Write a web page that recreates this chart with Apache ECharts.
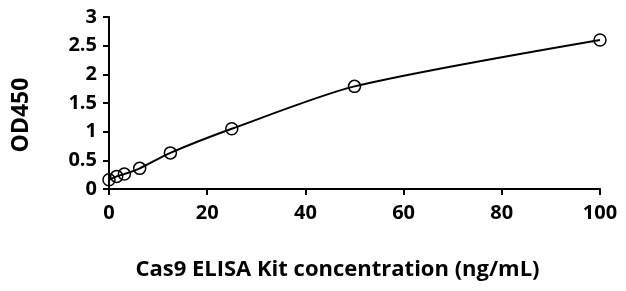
<!DOCTYPE html>
<html>
<head>
<meta charset="utf-8">
<script src="https://cdn.jsdelivr.net/npm/echarts@6/dist/echarts.min.js"></script>
<style>
  html, body { margin: 0; padding: 0; background: #fff; }
  #chart { width: 626px; height: 291px; }
</style>
</head>
<body>
<div id="chart"></div>
<script>
// standard curve, concentration (ng/mL) vs OD450
const concentration = [0, 1.5625, 3.125, 6.25, 12.5, 25, 50, 100];
const od450 = [0.16, 0.22, 0.26, 0.36, 0.63, 1.05, 1.79, 2.6];

const xAxisName = "Cas9 ELISA Kit concentration (ng/mL)";
const yAxisName = "OD450";

let myChart = echarts.init(document.getElementById("chart"));
let font = "'Open Sans', 'Liberation Sans', sans-serif";
let axisLine = { show: true, onZero: false, lineStyle: { color: "#000", width: 2 } };
let axisTick = { show: true, length: 6, lineStyle: { color: "#000", width: 2 } };

let options = {
    animation: false,
    grid: { left: 109, right: 26, top: 17, bottom: 102 },
    xAxis: {
        type: "value",
        min: 0,
        max: 100,
        interval: 20,
        name: xAxisName,
        nameLocation: "middle",
        nameGap: 70,
        nameTextStyle: { color: "#000", fontFamily: font, fontWeight: "bold", fontSize: 22, padding: [0, 34, 0, 0] },
        axisLine: axisLine,
        axisTick: axisTick,
        splitLine: { show: false },
        axisLabel: { color: "#000", fontFamily: font, fontWeight: "bold", fontSize: 20, margin: 14 },
    },
    yAxis: {
        type: "value",
        min: 0,
        max: 3,
        interval: 0.5,
        name: yAxisName,
        nameLocation: "middle",
        nameGap: 76,
        nameTextStyle: { color: "#000", fontFamily: font, fontWeight: "bold", fontSize: 23, padding: [0, 24, 0, 0] },
        axisLine: axisLine,
        axisTick: axisTick,
        splitLine: { show: false },
        axisLabel: { color: "#000", fontFamily: font, fontWeight: "bold", fontSize: 20, margin: 12 },
    },
    series: [
        {
            type: "line",
            data: concentration.map((c, i) => [c, od450[i]]),
            smooth: 0.25,
            symbol: "circle",
            symbolSize: 12,
            showAllSymbol: true,
            lineStyle: { color: "#000", width: 2 },
            itemStyle: { color: "rgba(255,255,255,0)", borderColor: "#000", borderWidth: 1.5 },
        },
    ],
};
myChart.setOption(options);
</script>
</body>
</html>
